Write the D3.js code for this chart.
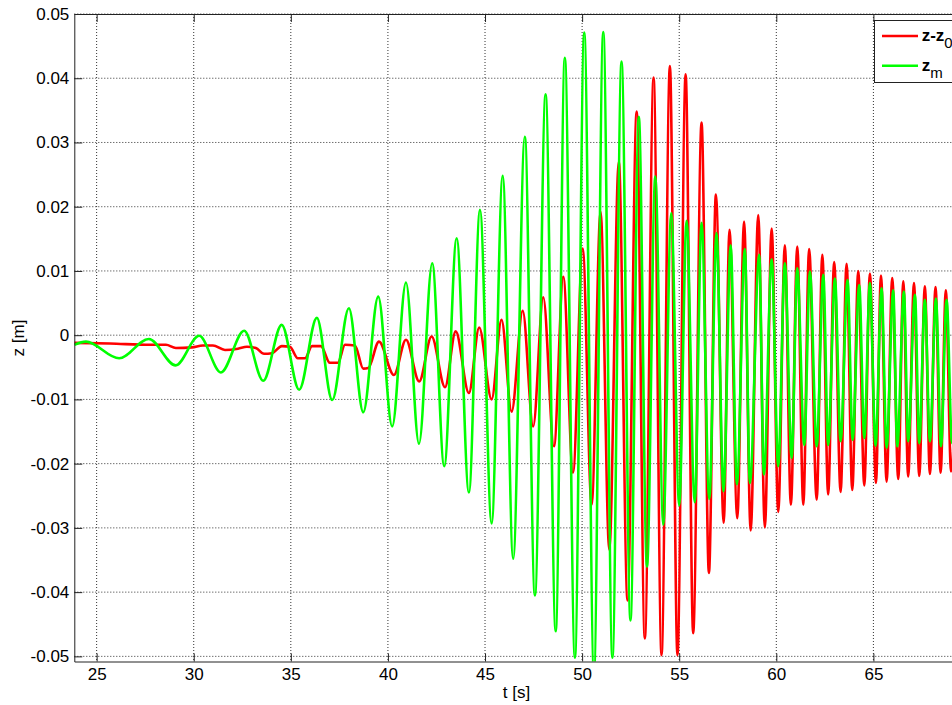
<!DOCTYPE html>
<html>
<head>
<meta charset="utf-8">
<script src="https://cdn.jsdelivr.net/npm/d3@7"></script>
<style>
    body { margin: 0; background: #fff; }
    svg { display: block; font-family: "Liberation Sans", Arial, Helvetica, sans-serif; }
</style>
</head>
<body>
<svg id="chart" width="952" height="705"></svg>
<script>
// tick values
const tTicks = [25, 30, 35, 40, 45, 50, 55, 60, 65];
const zTicks = [-0.05, -0.04, -0.03, -0.02, -0.01, 0, 0.01, 0.02, 0.03, 0.04, 0.05];

// z - z0 : [t (s), z (m)] turning points
const relData = [
    [23.85, -0.0012], [25.68, -0.0013], [27.74, -0.0015], [28.57, -0.0015], [29.08, -0.0020],
    [29.91, -0.0019], [30.47, -0.0016], [30.99, -0.0016], [31.61, -0.0023], [32.28, -0.0021],
    [32.74, -0.0018], [33.20, -0.0020], [33.62, -0.0029], [34.03, -0.0028], [34.54, -0.0017],
    [34.95, -0.0018], [35.36, -0.0036], [35.73, -0.0036], [36.09, -0.0017], [36.55, -0.0017],
    [37.01, -0.0043], [37.42, -0.0043], [37.79, -0.0015], [38.30, -0.0016], [38.73, -0.0052],
    [38.99, -0.0051], [39.54, -0.0010], [40.31, -0.0062], [40.93, -0.0007], [41.61, -0.0072],
    [42.25, -0.0002], [42.94, -0.0081], [43.49, 0.0006], [44.17, -0.0090], [44.70, 0.0012],
    [45.34, -0.0100], [45.85, 0.0024], [46.37, -0.0119], [46.94, 0.0038], [47.48, -0.0142],
    [48.00, 0.0059], [48.55, -0.0173], [49.03, 0.0091], [49.53, -0.0214], [50.03, 0.0135],
    [50.49, -0.0264], [50.95, 0.0192], [51.40, -0.0334], [51.89, 0.0270], [52.34, -0.0413],
    [52.81, 0.0348], [53.23, -0.0472], [53.68, 0.0401], [54.09, -0.0498], [54.52, 0.0419],
    [54.91, -0.0498], [55.33, 0.0406], [55.72, -0.0464], [56.15, 0.0331], [56.53, -0.0370],
    [56.89, 0.0219], [57.29, -0.0292], [57.59, 0.0164], [57.99, -0.0285], [58.34, 0.0177],
    [58.68, -0.0304], [59.07, 0.0187], [59.41, -0.0299], [59.76, 0.0166], [60.10, -0.0275],
    [60.44, 0.0140], [60.75, -0.0264], [61.08, 0.0138], [61.39, -0.0264], [61.69, 0.0134],
    [62.08, -0.0256], [62.37, 0.0125], [62.67, -0.0248], [62.98, 0.0114], [63.31, -0.0244],
    [63.62, 0.0111], [63.91, -0.0241], [64.22, 0.0100], [64.53, -0.0234], [64.82, 0.0096],
    [65.13, -0.0230], [65.39, 0.0093], [65.68, -0.0228], [65.97, 0.0089], [66.28, -0.0224],
    [66.54, 0.0084], [66.79, -0.0220], [67.09, 0.0081], [67.36, -0.0219], [67.65, 0.0076],
    [67.91, -0.0216], [68.20, 0.0075], [68.46, -0.0214], [68.73, 0.0070], [69.00, -0.0212],
    [69.30, 0.0068]
];

// z_m : [t (s), z (m)]
const zmData = [
    [23.85, -0.0015], [24.45, -0.0010], [26.16, -0.0036], [27.69, -0.0006], [29.07, -0.0047],
    [30.28, -0.0001], [31.40, -0.0058], [32.60, 0.0007], [33.58, -0.0071], [34.53, 0.0016],
    [35.43, -0.0085], [36.34, 0.0027], [37.13, -0.0101], [37.99, 0.0042], [38.73, -0.0120],
    [39.50, 0.0060], [40.22, -0.0142], [40.93, 0.0082], [41.60, -0.0169], [42.28, 0.0112],
    [42.90, -0.0204], [43.54, 0.0151], [44.17, -0.0245], [44.74, 0.0195], [45.34, -0.0293],
    [45.91, 0.0248], [46.45, -0.0348], [47.05, 0.0309], [47.57, -0.0405], [48.12, 0.0375],
    [48.64, -0.0461], [49.11, 0.0432], [49.63, -0.0502], [50.11, 0.0471], [50.61, -0.0525],
    [51.09, 0.0472], [51.56, -0.0502], [52.03, 0.0426], [52.49, -0.0444], [52.92, 0.0340],
    [53.34, -0.0360], [53.77, 0.0247], [54.18, -0.0295], [54.59, 0.0190], [55.00, -0.0265],
    [55.38, 0.0178], [55.80, -0.0260], [56.15, 0.0175], [56.55, -0.0255], [56.92, 0.0159],
    [57.28, -0.0243], [57.65, 0.0140], [57.97, -0.0232], [58.38, 0.0134], [58.64, -0.0230],
    [59.12, 0.0125], [59.36, -0.0217], [59.76, 0.0118], [60.10, -0.0204], [60.44, 0.0112],
    [60.79, -0.0191], [61.08, 0.0104], [61.44, -0.0171], [61.73, 0.0099], [62.08, -0.0173],
    [62.42, 0.0094], [62.67, -0.0171], [63.02, 0.0088], [63.31, -0.0165], [63.67, 0.0086],
    [63.93, -0.0163], [64.27, 0.0078], [64.53, -0.0160], [64.82, 0.0081], [65.11, -0.0172],
    [65.42, 0.0073], [65.68, -0.0175], [66.02, 0.0070], [66.23, -0.0173], [66.57, 0.0068],
    [66.79, -0.0165], [67.14, 0.0063], [67.36, -0.0168], [67.65, 0.0055], [67.91, -0.0165],
    [68.22, 0.0057], [68.48, -0.0173], [68.77, 0.0055], [69.05, -0.0168], [69.30, 0.0052]
];

const svg = d3.select("#chart");

const plot = {left: 74.3, top: 14, right: 970.5, bottom: 661.5};

const x = d3.scaleLinear()
    .domain([23.85, 70])
    .range([plot.left, plot.right]);

const y = d3.scaleLinear()
    .domain([-0.0508, 0.05])
    .range([plot.bottom, plot.top]);

const fmt = d => d === 0 ? "0" : d3.format(".2f")(d).replace("\u2212", "-");

// grid
const grid = svg.append("g").attr("class", "grid")
    .attr("stroke", "#333")
    .attr("stroke-width", 1)
    .attr("stroke-dasharray", "1,2");

grid.selectAll("line.v").data(tTicks).join("line")
    .attr("class", "v")
    .attr("x1", d => x(d)).attr("x2", d => x(d))
    .attr("y1", plot.top).attr("y2", plot.bottom);

grid.selectAll("line.h").data(zTicks).join("line")
    .attr("class", "h")
    .attr("x1", plot.left).attr("x2", plot.right)
    .attr("y1", d => y(d)).attr("y2", d => y(d));

// data lines
svg.append("clipPath").attr("id", "clip")
    .append("rect")
    .attr("x", plot.left).attr("y", plot.top)
    .attr("width", plot.right - plot.left)
    .attr("height", plot.bottom - plot.top);

const line = d3.line()
    .curve(d3.curveMonotoneX)
    .x(d => x(d[0]))
    .y(d => y(d[1]));

const lines = svg.append("g").attr("clip-path", "url(#clip)");

lines.append("path")
    .datum(relData)
    .attr("fill", "none")
    .attr("stroke", "#ff0000")
    .attr("stroke-width", 2.6)
    .attr("stroke-linejoin", "round")
    .attr("d", line);

lines.append("path")
    .datum(zmData)
    .attr("fill", "none")
    .attr("stroke", "#00ff00")
    .attr("stroke-width", 2.6)
    .attr("stroke-linejoin", "round")
    .attr("d", line);

// axes (ticks point inwards, box on)
const styleAxis = g => {
    g.select(".domain").attr("stroke", "#222");
    g.selectAll(".tick line").attr("stroke", "#222");
    g.selectAll(".tick text")
        .attr("fill", "#000")
        .attr("font-size", 17)
        .attr("font-family", "Liberation Sans, Arial, Helvetica, sans-serif");
};

svg.append("g")
    .attr("transform", `translate(0,${plot.bottom})`)
    .call(d3.axisBottom(x).tickValues(tTicks).tickFormat(d3.format("d"))
        .tickSize(-8).tickSizeOuter(0).tickPadding(6))
    .call(styleAxis);

svg.append("g")
    .attr("transform", `translate(0,${plot.top})`)
    .call(d3.axisTop(x).tickValues(tTicks).tickFormat("")
        .tickSize(-8).tickSizeOuter(0))
    .call(styleAxis);

svg.append("g")
    .attr("transform", `translate(${plot.left},0)`)
    .call(d3.axisLeft(y).tickValues(zTicks).tickFormat(fmt)
        .tickSize(-8).tickSizeOuter(0).tickPadding(5))
    .call(styleAxis);

svg.append("g")
    .attr("transform", `translate(${plot.right},0)`)
    .call(d3.axisRight(y).tickValues(zTicks).tickFormat("")
        .tickSize(-8).tickSizeOuter(0))
    .call(styleAxis);

// axis labels
svg.append("text")
    .attr("text-anchor", "middle")
    .attr("x", 516.5)
    .attr("y", 698)
    .attr("font-size", 17)
    .text("t [s]");

svg.append("text")
    .attr("text-anchor", "middle")
    .attr("transform", "translate(24,338) rotate(-90)")
    .attr("font-size", 17)
    .text("z [m]");

// legend
const legend = svg.append("g");

legend.append("rect")
    .attr("x", 874.5).attr("y", 20.5)
    .attr("width", 110).attr("height", 62)
    .attr("fill", "#fff")
    .attr("stroke", "#222");

const legendItems = [
    {label: "z-z", sub: "0", color: "#ff0000", y: 36},
    {label: "z", sub: "m", color: "#00ff00", y: 65.7}
];

legendItems.forEach(item => {
    legend.append("line")
        .attr("x1", 882).attr("x2", 918)
        .attr("y1", item.y).attr("y2", item.y)
        .attr("stroke", item.color)
        .attr("stroke-width", 2.4);

    const t = legend.append("text")
        .attr("x", 921.7)
        .attr("y", item.y + 5)
        .attr("font-size", 17);
    t.append("tspan").attr("font-weight", "bold").text(item.label);
    t.append("tspan").attr("font-size", 15).attr("dy", 7).text(item.sub);
});
</script>
</body>
</html>
